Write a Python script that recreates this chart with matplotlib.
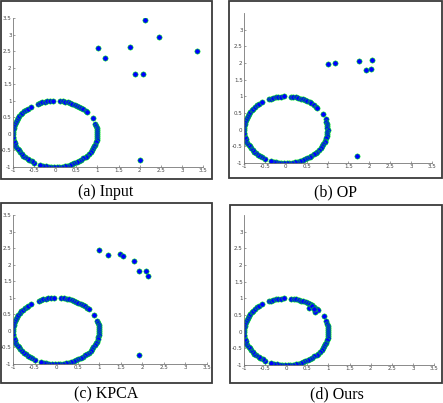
import numpy as np
import matplotlib
matplotlib.use('Agg')
import matplotlib.pyplot as plt
from matplotlib.patches import Rectangle

W, H = 443, 403

# angles (deg) of the points on the unit circle
circle_deg = [18, 14, 10, 7, 3, 0, -4, -8, -11, -15, -19, -22, -26, -30, -33,
              -37, -41, -44, -48, -52, -55, -59, -63, -66, -70, -74, -77, -81,
              -85, -88, -92, -96, -99, -103, -107, -111,
              240, 236, 232, 229, 225, 221, 218, 214, 210, 207, 203, 199, 196,
              192, 188, 185, 181, 177, 174, 170, 166, 163, 159, 155, 152, 148,
              144, 141, 137, 133, 130, 125,
              114, 111, 108, 104, 101, 97, 93,
              83, 80, 76, 73, 69, 66, 62, 59, 55, 52, 48, 44, 41,
              28]

# outliers per method
input_x = [1.02, 1.19, 1.76, 2.13, 2.46, 3.36, 1.90, 2.07, 2.01]
input_y = [2.58, 2.30, 2.63, 3.44, 2.92, 2.50, 1.80, 1.81, -0.79]

op_x = [1.02, 1.19, 1.75, 2.06, 1.91, 2.05, 1.71]
op_y = [1.97, 2.00, 2.06, 2.08, 1.80, 1.81, -0.78]

kpca_x = [1.00, 1.20, 1.49, 1.56, 1.81, 1.93, 2.08, 2.14, 1.92]
kpca_y = [2.45, 2.29, 2.32, 2.27, 2.11, 1.80, 1.80, 1.67, -0.74]

ours_x = [0.55, 0.62, 0.69, 0.66]
ours_y = [0.71, 0.77, 0.58, 0.67]

captions = ['(a) Input', '(b) OP', '(c) KPCA', '(d) Ours']
xticks = [-1, -0.5, 0, 0.5, 1, 1.5, 2, 2.5, 3, 3.5]
xlabels = ['-1', '-0.5', '0', '0.5', '1', '1.5', '2', '2.5', '3', '3.5']

ang = np.radians(circle_deg)
cx, cy = np.cos(ang), np.sin(ang)

fig = plt.figure(figsize=(W / 100, H / 100), dpi=100)


def px_axes(l, r, b, t):
    return fig.add_axes([l / W, 1 - b / H, (r - l) / W, (b - t) / H])


# (frame l, r, t, b), (axes l, r, bottom, top), caption (x, y), y top tick
panels = [
    ((1, 212, 1, 179), (13, 203, 167, 18), (106, 192), 3.5, input_x, input_y),
    ((229, 442, 1, 178), (244, 432, 163, 13), (335, 192), 3.0, op_x, op_y),
    ((1, 212, 203, 383), (13, 207, 364, 215), (106, 394), 3.5, kpca_x, kpca_y),
    ((230, 442, 205, 383), (244, 434, 365, 215), (337, 394), 3.0, ours_x, ours_y),
]

for i, (fr, axp, cap, ytop, ox, oy) in enumerate(panels):
    fig.patches.append(Rectangle((fr[0] / W, 1 - fr[3] / H), (fr[1] - fr[0]) / W,
                                 (fr[3] - fr[2]) / H, transform=fig.transFigure,
                                 fill=False, edgecolor='#3a3a3a', lw=1.3))
    ax = px_axes(*axp)
    ax.plot(cx, cy, 'o', ms=3.8, mfc='#0000ff', mec='#00ff00', mew=0.35, ls='none')
    ax.plot(ox, oy, 'o', ms=3.8, mfc='#0000ff', mec='#00ff00', mew=0.35, ls='none')
    ax.set_xlim(-1, 3.5)
    ax.set_ylim(-1, 3.5)
    ax.set_xticks(xticks)
    ax.set_xticklabels(xlabels)
    yt = [v for v in xticks if v <= ytop]
    ax.set_yticks(yt)
    ax.set_yticklabels([xlabels[xticks.index(v)] for v in yt])
    ax.spines['top'].set_visible(False)
    ax.spines['right'].set_visible(False)
    for s in ('left', 'bottom'):
        ax.spines[s].set_color('#777777')
        ax.spines[s].set_linewidth(0.6)
    ax.tick_params(direction='in', length=1.5, width=0.5, colors='#777777',
                   labelsize=4, labelcolor='#444444', pad=1)
    ax.patch.set_alpha(0)
    fig.text(cap[0] / W, 1 - cap[1] / H, captions[i], ha='center', va='center',
             family='Liberation Serif', fontsize=11.5)

fig.savefig('out.png', dpi=100)
